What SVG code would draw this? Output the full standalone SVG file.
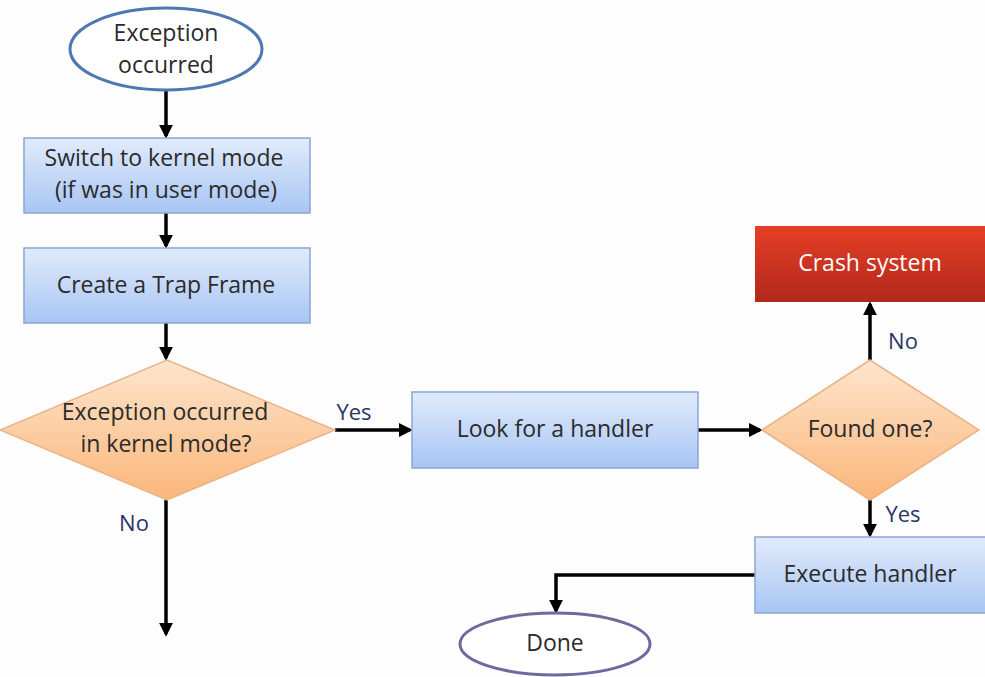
<svg xmlns="http://www.w3.org/2000/svg" width="985" height="677" viewBox="0 0 985 677">
<style>
.t{font-family:"Open Sans","Liberation Sans",sans-serif;font-size:23px;fill:#2b2b2b;text-anchor:middle}
.lbl{font-family:"Open Sans","Liberation Sans",sans-serif;font-size:22px;fill:#2a3566;text-anchor:middle}
.box{fill:url(#gb);stroke:#8aa6d2;stroke-width:1.5}
.dia{fill:url(#go);stroke:#eab489;stroke-width:1.5}
.ell{fill:#fff;stroke-width:3}
.c{fill:none;stroke:#000;stroke-width:3.5;marker-end:url(#ah)}
</style>
<defs>
<linearGradient id="gb" x1="0" y1="0" x2="0" y2="1"><stop offset="0" stop-color="#e1ebfb"/><stop offset="1" stop-color="#a8c5f4"/></linearGradient>
<linearGradient id="go" x1="0" y1="0" x2="0" y2="1"><stop offset="0" stop-color="#fde5cd"/><stop offset="1" stop-color="#fbb67a"/></linearGradient>
<linearGradient id="gr" x1="0" y1="0" x2="0" y2="1"><stop offset="0" stop-color="#e63f25"/><stop offset="1" stop-color="#b1281c"/></linearGradient>
<marker id="ah" markerWidth="4" markerHeight="4" refX="3.2" refY="2" orient="auto" markerUnits="strokeWidth"><path d="M0,0 L4,2 L0,4 Z" fill="#000"/></marker>
</defs>
<rect width="985" height="677" fill="#fdfdfd"/>
<g id="connectors">
<line class="c" x1="166" y1="91" x2="166" y2="136"/>
<line class="c" x1="166" y1="213" x2="166" y2="246"/>
<line class="c" x1="166" y1="323" x2="166" y2="358"/>
<line class="c" x1="335" y1="430" x2="410" y2="430"/>
<line class="c" x1="698" y1="430" x2="760" y2="430"/>
<line class="c" x1="870" y1="360" x2="870" y2="304"/>
<line class="c" x1="870" y1="500" x2="870" y2="535"/>
<polyline class="c" points="755,575 556,575 556,611"/>
<line class="c" x1="166" y1="500" x2="166" y2="634"/>
<text class="lbl" x="354" y="420">Yes</text>
<text class="lbl" x="134" y="531">No</text>
<text class="lbl" x="903" y="349">No</text>
<text class="lbl" x="903" y="522">Yes</text>
</g>
<g id="start">
<ellipse class="ell" cx="166" cy="49" rx="96" ry="41" stroke="#4d78b0"/>
<text class="t" x="166" y="41">Exception</text>
<text class="t" x="166" y="73">occurred</text>
</g>
<g id="switch">
<rect class="box" x="24" y="138" width="286" height="75"/>
<text class="t" x="164" y="166">Switch to kernel mode</text>
<text class="t" x="166" y="198">(if was in user mode)</text>
</g>
<g id="trap">
<rect class="box" x="24" y="248" width="286" height="75"/>
<text class="t" x="166" y="293">Create a Trap Frame</text>
</g>
<g id="kernelq">
<polygon class="dia" points="167,360 335,430 167,500 0,430"/>
<text class="t" x="165" y="420">Exception occurred</text>
<text class="t" x="166" y="452">in kernel mode?</text>
</g>
<g id="look">
<rect class="box" x="412" y="392" width="286" height="76"/>
<text class="t" x="555" y="437">Look for a handler</text>
</g>
<g id="found">
<polygon class="dia" points="870,360 979,430 870,500 762,430"/>
<text class="t" x="870" y="437">Found one?</text>
</g>
<g id="crash">
<rect x="755" y="226" width="232" height="76" fill="url(#gr)"/>
<text class="t" x="870" y="271" style="fill:#fff">Crash system</text>
</g>
<g id="execute">
<rect class="box" x="755" y="537" width="232" height="76"/>
<text class="t" x="870" y="582">Execute handler</text>
</g>
<g id="done">
<ellipse class="ell" cx="555" cy="644" rx="95" ry="31" stroke="#6f6a9e"/>
<text class="t" x="555" y="651">Done</text>
</g>
</svg>
